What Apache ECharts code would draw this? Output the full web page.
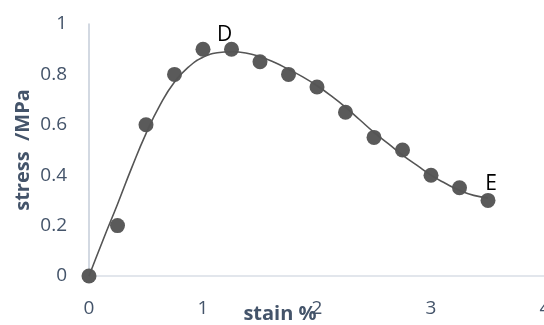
<!DOCTYPE html>
<html>
<head>
<meta charset="utf-8">
<script src="https://cdn.jsdelivr.net/npm/echarts@6/dist/echarts.min.js"></script>
<style>
  html, body { margin: 0; padding: 0; background: #fff; }
  #chart { width: 544px; height: 325px; }
</style>
</head>
<body>
<div id="chart"></div>
<script>
// Measured points
const strain = [0, 0.25, 0.5, 0.75, 1, 1.25, 1.5, 1.75, 2, 2.25, 2.5, 2.75, 3, 3.25, 3.5];
const stress = [0, 0.2, 0.6, 0.8, 0.9, 0.9, 0.85, 0.8, 0.75, 0.65, 0.55, 0.5, 0.4, 0.35, 0.3];
const pointLabels = ['', '', '', '', '', 'D', '', '', '', '', '', '', '', '', 'E'];

// Trend curve through the points
const trendX = [0, 0.125, 0.25, 0.375, 0.5, 0.625, 0.75, 0.875, 1, 1.125, 1.25, 1.375, 1.5, 1.625, 1.75,
                1.875, 2, 2.125, 2.25, 2.375, 2.5, 2.625, 2.75, 2.875, 3, 3.125, 3.25, 3.375, 3.5];
const trendY = [0, 0.145, 0.285, 0.43, 0.565, 0.68, 0.77, 0.83, 0.868, 0.886, 0.89, 0.885, 0.87, 0.848, 0.82,
                0.79, 0.755, 0.715, 0.67, 0.62, 0.57, 0.525, 0.48, 0.44, 0.40, 0.368, 0.34, 0.32, 0.31];

const xTicks = { min: 0, max: 4, step: 1 };
const yTicks = { min: 0, max: 1, step: 0.2 };

const labelOffsets = { D: [-7, -14], E: [3, -16] };

const scatterData = strain.map((x, i) => {
  const item = { value: [x, stress[i]] };
  const t = pointLabels[i];
  if (t) {
    item.label = {
      show: true,
      formatter: t,
      position: 'inside',
      offset: labelOffsets[t],
      color: '#000',
      fontFamily: 'Open Sans',
      fontSize: 21
    };
  }
  return item;
});

const chart = echarts.init(document.getElementById('chart'), null, { renderer: 'canvas' });
chart.setOption({
  animation: false,
  backgroundColor: '#ffffff',
  grid: { left: 89, top: 24, width: 456, bottom: 49, containLabel: false, outerBoundsMode: 'none' },
  xAxis: {
    type: 'value',
    min: xTicks.min, max: xTicks.max, interval: xTicks.step,
    name: 'stain %',
    nameLocation: 'middle',
    nameGap: 28,
    nameMoveOverlap: false,
    nameTextStyle: { color: '#44546a', fontFamily: 'Open Sans', fontWeight: 'bold', fontSize: 20, padding: [0, 74, 0, 0] },
    axisLine: { show: true, lineStyle: { color: '#d9dee6', width: 1.5 } },
    axisTick: { show: false },
    splitLine: { show: false },
    axisLabel: { color: '#44546a', fontFamily: 'Open Sans', fontSize: 19, margin: 23, showMaxLabel: true }
  },
  yAxis: {
    type: 'value',
    min: yTicks.min, max: yTicks.max, interval: yTicks.step,
    name: 'stress  /MPa',
    nameLocation: 'middle',
    nameGap: 56,
    nameMoveOverlap: false,
    nameRotate: 90,
    nameTextStyle: { color: '#44546a', fontFamily: 'Open Sans', fontWeight: 'bold', fontSize: 20 },
    axisLine: { show: true, lineStyle: { color: '#c5ccd8', width: 1.5 } },
    axisTick: { show: false },
    splitLine: { show: false },
    axisLabel: { color: '#44546a', fontFamily: 'Open Sans', fontSize: 19, margin: 22 }
  },
  series: [
    {
      type: 'scatter',
      data: scatterData,
      symbol: 'circle',
      symbolSize: 15,
      itemStyle: { color: '#5a5a5a', opacity: 1 },
      z: 2
    },
    {
      type: 'line',
      data: trendX.map((x, i) => [x, trendY[i]]),
      smooth: true,
      showSymbol: false,
      lineStyle: { color: '#555555', width: 1.6 },
      z: 3
    }
  ]
});
</script>
</body>
</html>
